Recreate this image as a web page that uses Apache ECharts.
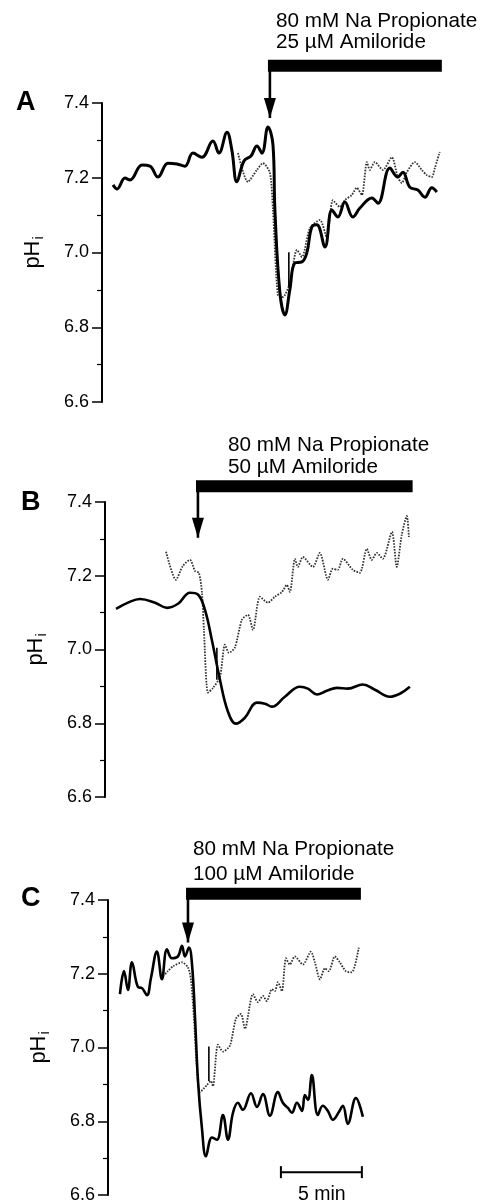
<!DOCTYPE html>
<html><head><meta charset="utf-8">
<script src="https://cdn.jsdelivr.net/npm/echarts@6/dist/echarts.min.js"></script>
<style>html,body{margin:0;padding:0;background:#fff}#c{width:481px;height:1204px}</style>
</head><body><div id="c"></div>
<script>
// ---- Data (time in min, pHi) ----
const aSolidT = [0.68,0.93,1.42,1.73,2.47,2.96,3.46,4.07,4.63,5.12,5.62,6.17,6.85,7.22,7.72,8.02,8.33,8.77,9.2,9.57,9.88,10.25,10.56,10.68,10.99,11.3,11.6,11.91,12.35,12.65,12.96,13.27,13.77,14.2,14.57,15.0,15.49,15.93,16.67,17.04,17.78,18.27,18.58,19.01,19.51,19.94,20.37,20.68];
const aSolidPH = [7.181,7.170,7.199,7.194,7.234,7.231,7.202,7.239,7.237,7.231,7.266,7.255,7.298,7.266,7.322,7.274,7.189,7.245,7.258,7.285,7.266,7.336,7.288,7.114,6.892,6.833,6.900,6.972,6.975,6.999,7.068,7.074,7.015,7.114,7.095,7.135,7.095,7.119,7.146,7.132,7.226,7.202,7.215,7.175,7.167,7.148,7.173,7.162];
const aDotT = [8.4,9.01,9.57,9.94,10.37,10.56,10.86,11.17,11.6,12.04,12.35,12.84,13.46,13.89,14.26,14.69,15.0,15.43,15.74,16.05,16.36,16.54,16.85,17.35,17.9,18.27,18.52,18.83,19.32,19.75,20.06,20.37,20.56,20.86];
const aDotPH = [7.266,7.189,7.221,7.239,7.213,7.114,6.886,6.881,6.918,7.007,6.988,7.065,7.087,7.039,7.140,7.122,7.140,7.154,7.173,7.154,7.242,7.221,7.242,7.221,7.255,7.202,7.186,7.215,7.242,7.221,7.207,7.202,7.226,7.269];

const bSolidT = [0.68,1.42,2.16,3.09,3.83,4.51,5.25,5.74,6.17,6.6,7.1,7.59,8.09,8.64,9.38,9.88,10.31,11.11,12.04,12.53,13.09,13.7,14.32,15.0,15.93,16.67,17.59,18.21,18.83];
const bSolidPH = [7.110,7.127,7.137,7.127,7.113,7.124,7.154,7.149,7.108,7.026,6.918,6.832,6.799,6.815,6.856,6.853,6.845,6.872,6.899,6.894,6.878,6.888,6.896,6.894,6.905,6.891,6.872,6.880,6.899];
const bDotT = [3.77,4.38,4.81,5.25,5.56,5.8,5.99,6.11,6.36,6.67,7.1,7.41,7.65,8.02,8.46,8.83,9.14,9.57,10.06,10.49,10.93,11.23,11.42,11.73,11.91,12.22,12.84,13.27,13.77,14.07,14.38,14.69,15.31,15.74,16.17,16.48,16.79,17.16,17.72,18.02,18.33,18.64,18.77];
const bDotPH = [7.265,7.189,7.227,7.243,7.213,7.208,7.154,7.053,6.883,6.896,6.926,7.013,6.991,7.005,7.081,7.094,7.053,7.143,7.127,7.143,7.156,7.175,7.156,7.246,7.224,7.251,7.224,7.262,7.189,7.219,7.216,7.246,7.216,7.208,7.273,7.243,7.262,7.246,7.319,7.224,7.311,7.362,7.305];

const cSolidT = [0.74,0.99,1.23,1.48,1.85,2.1,2.41,2.65,3.02,3.33,3.64,3.95,4.32,4.57,4.75,5.0,5.19,5.37,5.56,5.8,6.05,6.42,6.73,7.1,7.41,7.72,8.02,8.33,8.83,9.2,9.57,10.0,10.49,10.8,11.11,11.36,11.67,11.98,12.16,12.35,12.59,12.96,13.27,13.58,13.89,14.26,14.51,14.81,15.31,15.74];
const cSolidPH = [7.145,7.207,7.156,7.231,7.164,7.161,7.142,7.188,7.260,7.185,7.266,7.242,7.247,7.276,7.247,7.271,7.225,7.086,6.909,6.782,6.705,6.756,6.750,6.817,6.750,6.823,6.850,6.831,6.876,6.839,6.874,6.815,6.879,6.850,6.836,6.823,6.850,6.828,6.871,6.858,6.925,6.817,6.842,6.828,6.804,6.825,6.842,6.793,6.863,6.812];
const cDotT = [3.4,3.7,4.01,4.57,4.94,5.12,5.31,5.49,5.68,6.11,6.36,6.48,6.79,7.1,7.53,7.9,8.21,8.46,8.95,9.26,9.57,9.81,10.12,10.31,10.49,10.74,10.99,11.23,11.54,12.04,12.53,12.78,13.09,13.4,13.64,14.01,14.32,14.69,15.06,15.49];
const cDotPH = [7.193,7.207,7.220,7.231,7.217,7.185,7.078,6.944,6.879,6.898,6.909,6.895,7.008,6.989,7.005,7.078,7.091,7.051,7.145,7.123,7.140,7.126,7.158,7.153,7.177,7.153,7.242,7.225,7.247,7.225,7.260,7.231,7.185,7.215,7.207,7.247,7.231,7.207,7.204,7.271];

// treatment annotations per panel (A, B, C)
const panelLetters = ['A','B','C'];
const treatLine1 = ['80 mM Na Propionate','80 mM Na Propionate','80 mM Na Propionate'];
const treatLine2 = ['25 \u00b5M Amiloride','50 \u00b5M Amiloride','100 \u00b5M Amiloride'];
const arrowT = [10.37, 5.74, 4.94];
const arrowTipPH = [7.36, 7.303, 7.285];
const barPH = [7.50, 7.443, 7.417];
const barEndT = [20.99, 19.0, 15.62];
const spikeT = [11.54, 6.91, 6.23];
const spikeTopPH = [7.001, 7.005, 7.003];
const spikeBotPH = [6.908, 6.918, 6.909];
const scaleBarT = [10.68, 15.68];
const scaleBarPH = 6.662;
const scaleLabel = '5 min';
const yTicks = [6.6, 6.8, 7.0, 7.2, 7.4];

// ---- Layout ----
const grids = [
  {left:102, top:103, width:340, height:299},
  {left:105, top:502, width:340, height:295},
  {left:108, top:900, width:340, height:298}
];
const solidW = [3, 2.6, 2.6];
const zip = (t, v) => t.map((x, i) => [x, v[i]]);
const solids = [zip(aSolidT,aSolidPH), zip(bSolidT,bSolidPH), zip(cSolidT,cSolidPH)];
const dots = [zip(aDotT,aDotPH), zip(bDotT,bDotPH), zip(cDotT,cDotPH)];
const FONT = '"Liberation Sans", Arial, Helvetica, sans-serif';

const xAxis = [], yAxis = [], series = [];
grids.forEach((g, i) => {
  xAxis.push({type:'value', gridIndex:i, min:0, max:21, show:false});
  yAxis.push({
    type:'value', gridIndex:i, min:yTicks[0], max:yTicks[yTicks.length-1], interval:0.2,
    axisLine:{show:true, lineStyle:{color:'#000', width:2}},
    axisTick:{show:true, length:10, lineStyle:{color:'#000', width:1.5}},
    minorTick:{show:true, splitNumber:2, length:5, lineStyle:{color:'#000', width:1.2}},
    splitLine:{show:false},
    axisLabel:{color:'#000', fontSize:18, fontFamily:FONT, margin:13, formatter:v => v.toFixed(1)},
    name:'{a|pH}{s|i}', nameLocation:'middle', nameRotate:90, nameGap:56,
    nameTextStyle:{color:'#000', fontFamily:FONT,
      rich:{a:{fontSize:22, fontFamily:FONT, color:'#000'}, s:{fontSize:14, fontFamily:FONT, color:'#000', padding:[12,0,0,1]}}}
  });
  series.push({type:'line', xAxisIndex:i, yAxisIndex:i, data:dots[i], showSymbol:false, smooth:0.25,
    lineStyle:{color:'#333', width:1.8, type:[1.6,1.3]}, z:2});
  series.push({type:'line', xAxisIndex:i, yAxisIndex:i, data:solids[i], showSymbol:false, smooth:0.4,
    lineStyle:{color:'#000', width:solidW[i]}, z:3});
  // vertical calibration spike
  series.push({type:'line', xAxisIndex:i, yAxisIndex:i, data:[[spikeT[i],spikeTopPH[i]],[spikeT[i],spikeBotPH[i]]],
    showSymbol:false, lineStyle:{color:'#000', width:1.6}, z:4});
  // treatment bar
  series.push({type:'line', xAxisIndex:i, yAxisIndex:i, clip:false, showSymbol:false,
    data:[[arrowT[i]-0.12, barPH[i]],[barEndT[i], barPH[i]]],
    lineStyle:{color:'#000', width:12, cap:'butt'}, z:5});
  // arrow
  series.push({type:'line', xAxisIndex:i, yAxisIndex:i, clip:false, showSymbol:true, showAllSymbol:true,
    data:[{value:[arrowT[i], barPH[i]], symbol:'none'},
          {value:[arrowT[i], arrowTipPH[i]], symbol:'triangle', symbolSize:[12,20], symbolRotate:180, symbolOffset:[0,-10]}],
    itemStyle:{color:'#000'}, lineStyle:{color:'#000', width:2.6}, z:5});
});
// scale bar in panel C
series.push({type:'line', xAxisIndex:2, yAxisIndex:2, clip:false, showSymbol:true, showAllSymbol:true,
  data:[[scaleBarT[0], scaleBarPH],[scaleBarT[1], scaleBarPH]],
  symbol:'rect', symbolSize:[2,12], itemStyle:{color:'#000'}, lineStyle:{color:'#000', width:2}, z:5});

const graphic = [];
const letterPos = [[16,89],[21,489],[21,885]];
const textPos = [[276,11,32],[228,435,457],[193,839,864]];
panelLetters.forEach((L, i) => {
  graphic.push({type:'text', left:letterPos[i][0], top:letterPos[i][1],
    style:{text:L, font:'bold 27px ' + FONT, fill:'#000'}});
  graphic.push({type:'text', left:textPos[i][0], top:textPos[i][1],
    style:{text:treatLine1[i], font:'20.7px ' + FONT, fill:'#000'}});
  graphic.push({type:'text', left:textPos[i][0], top:textPos[i][2],
    style:{text:treatLine2[i], font:'20.7px ' + FONT, fill:'#000'}});
});
graphic.push({type:'text', left:298, top:1185, style:{text:scaleLabel, font:'19.5px ' + FONT, fill:'#000'}});

const chart = echarts.init(document.getElementById('c'), null, {renderer:'canvas'});
chart.setOption({animation:false, backgroundColor:'#fff', grid:grids, xAxis, yAxis, series, graphic});
</script></body></html>
